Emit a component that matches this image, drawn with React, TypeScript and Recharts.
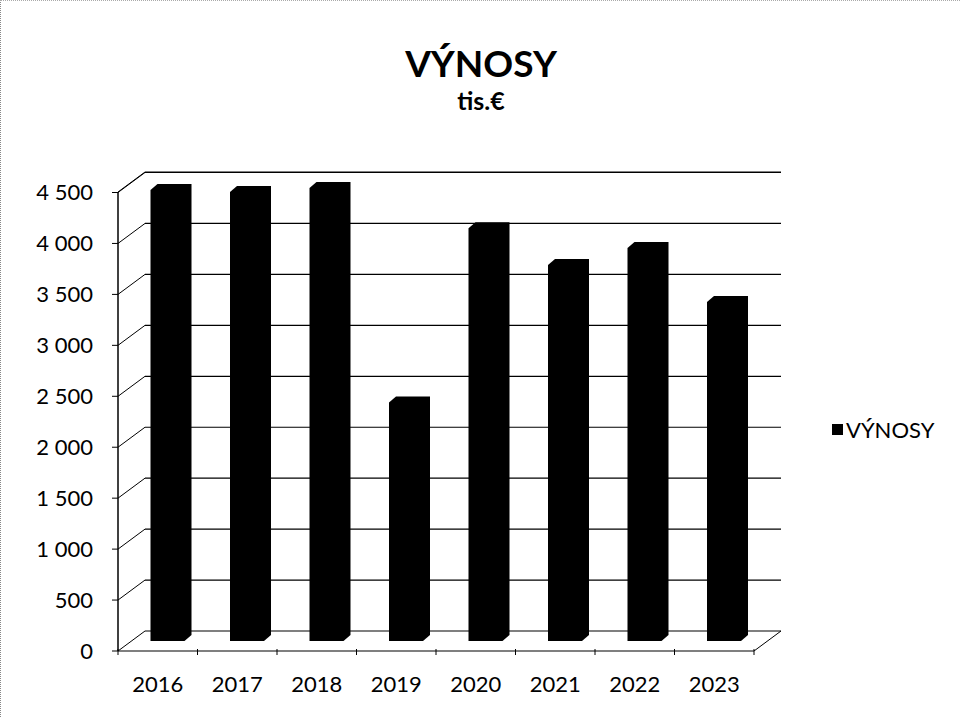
import { BarChart, Bar, XAxis, YAxis, CartesianGrid, Legend, ReferenceLine } from "recharts";

// tis. € per year
const years = ["2016", "2017", "2018", "2019", "2020", "2021", "2022", "2023"];
const revenue = [4485, 4465, 4505, 2400, 4110, 3750, 3915, 3385];
const yTicks = [0, 500, 1000, 1500, 2000, 2500, 3000, 3500, 4000, 4500];
const seriesName = "VÝNOSY";
const chartTitle = "VÝNOSY";
const chartSubtitle = "tis.€";

const data = years.map((year, i) => ({ year, value: revenue[i] }));

const FONT = "Lato, 'Open Sans', sans-serif";
const INK = "#000";
// oblique depth of the 3D wall (back wall sits up and to the right)
const DX = 27;
const DY = 20;

const fmt = (v: number) => String(v).replace(/\B(?=(\d{3})+(?!\d))/g, " ");

// grid line: diagonal from the front axis to the back wall, then along the wall
const WallLine = (p: any) => {
  const { x1, y1, x2, y2 } = p;
  return (
    <g key={p.key}>
      <line x1={x1} y1={y1} x2={x1 + DX} y2={y1 - DY} stroke={INK} strokeWidth={1} />
      <line x1={x1 + DX} y1={y1 - DY} x2={x2 + DX} y2={y2 - DY} stroke={INK} strokeWidth={1.2} />
    </g>
  );
};

// right edge of the floor
const FloorEdge = (p: any) => {
  const { x2, y2 } = p;
  return <line x1={x2} y1={y2} x2={x2 + DX} y2={y2 - DY} stroke={INK} strokeWidth={1} />;
};

// box seen obliquely: front face + depth, all in black
const BoxBar = (p: any) => {
  const { x, y, width, height } = p;
  if (!height || height <= 0) return null;
  const bx = x + DX / 2;
  const by = y - DY / 2;
  const c = 7;
  const cy = 6;
  const d = `M${bx},${by + cy} L${bx + c},${by} L${bx + width},${by} L${bx + width},${by + height - cy} L${bx + width - c},${by + height} L${bx},${by + height} Z`;
  return <path d={d} fill={INK} />;
};

const YearTick = (p: any) => {
  const { x, y, payload, index } = p;
  const half = payload.offset ?? 40;
  const last = index === years.length - 1;
  return (
    <g>
      <line x1={x - half} y1={y - 10} x2={x - half} y2={y - 4} stroke={INK} />
      {last && <line x1={x + half} y1={y - 10} x2={x + half} y2={y - 4} stroke={INK} />}
      <text x={x} y={y + 33} textAnchor="middle" fontSize={22} fontFamily={FONT} fill={INK}>
        {payload.value}
      </text>
    </g>
  );
};

const LegendBox = () => (
  <div style={{ display: "flex", alignItems: "center", fontFamily: FONT, fontSize: 22, color: INK }}>
    <span style={{ width: 11, height: 11, background: INK, display: "inline-block", marginRight: 3 }} />
    {seriesName}
  </div>
);

export default function App() {
  return (
    <div
      style={{
        position: "absolute",
        left: 0,
        top: 0,
        width: 960,
        height: 717,
        background: "#fff",
        borderLeft: "1px dotted #888",
        borderTop: "1px dotted #aaa",
        boxSizing: "border-box",
      }}
    >
      <div
        style={{
          position: "absolute",
          left: 0,
          width: 960,
          top: 43,
          textAlign: "center",
          fontFamily: FONT,
          fontWeight: 700,
          fontSize: 37,
          lineHeight: 1,
          color: INK,
        }}
      >
        {chartTitle}
      </div>
      <div
        style={{
          position: "absolute",
          left: 0,
          width: 960,
          top: 87,
          textAlign: "center",
          fontFamily: FONT,
          fontWeight: 700,
          fontSize: 25,
          lineHeight: 1,
          color: INK,
        }}
      >
        {chartSubtitle}
      </div>
      <BarChart
        width={958}
        height={716}
        data={data}
        margin={{ top: 192, right: 74, bottom: 25, left: 0 }}
        style={{ position: "absolute", left: -1, top: -1 }}
      >
        <CartesianGrid horizontal={WallLine} vertical={false} />
        <XAxis
          dataKey="year"
          tick={YearTick}
          tickLine={false}
          axisLine={{ stroke: INK, strokeWidth: 1.2 }}
          height={40}
          interval={0}
        />
        <YAxis
          domain={[0, 4500]}
          ticks={yTicks}
          tickFormatter={fmt}
          width={118}
          tickSize={6}
          tickMargin={19}
          axisLine={{ stroke: INK, strokeWidth: 1.5 }}
          tickLine={{ stroke: INK }}
          tick={{ fontSize: 22, fill: INK, fontFamily: FONT }}
        />
        <ReferenceLine y={0} shape={FloorEdge} />
        <Legend
          layout="vertical"
          align="right"
          verticalAlign="middle"
          content={LegendBox}
          wrapperStyle={{ width: 130, left: 832, top: 416 }}
        />
        <Bar dataKey="value" name={seriesName} barSize={41} shape={BoxBar} isAnimationActive={false} />
      </BarChart>
    </div>
  );
}
